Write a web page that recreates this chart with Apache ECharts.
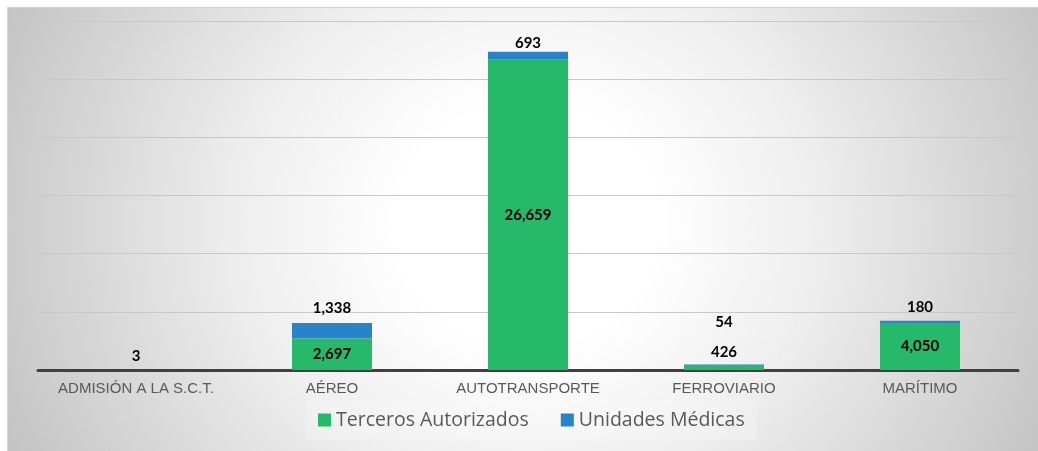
<!DOCTYPE html>
<html>
<head>
<meta charset="utf-8">
<script src="https://cdn.jsdelivr.net/npm/echarts@6/dist/echarts.min.js"></script>
<style>
  html, body { margin: 0; padding: 0; background: #ffffff; }
  #wrap { position: relative; width: 1038px; height: 451px; overflow: hidden; }
  #bg { position: absolute; left: 7px; top: 7px; width: 1040px; height: 450px;
        border-top: 1px solid #d2d2d2; border-left: 1px solid #d8d8d8;
        background: radial-gradient(ellipse 56% 120% at 50% 48%, #ffffff 22%, #eeeeee 50%, #c2c2c2 100%); }
  #chart { position: absolute; left: 0; top: 0; width: 1038px; height: 451px; }
</style>
</head>
<body>
<div id="wrap"><div id="bg"></div><div id="chart"></div></div>
<script>
// ---- data ----
const categories = ['ADMISIÓN A LA S.C.T.', 'AÉREO', 'AUTOTRANSPORTE', 'FERROVIARIO', 'MARÍTIMO'];
const tercerosAutorizados = [3, 2697, 26659, 426, 4050];
const unidadesMedicas = [null, 1338, 693, 54, 180];
const seriesNames = ['Terceros Autorizados', 'Unidades Médicas'];

// ---- label placement tweaks (styles only) ----
const greenLabelOffsets = [[0, -14], [0, 0], [0, 0], [0, -15], [0, 0]];
const blueLabelDistances = [5, 7, 1, 35, 6];

const fmt = v => Number(v).toLocaleString('en-US');

const chart = echarts.init(document.getElementById('chart'), null, { renderer: 'canvas' });

const labelBase = {
  show: true,
  color: '#000000',
  fontFamily: 'Lato',
  fontWeight: 'bold',
  fontSize: 15,
  formatter: p => (p.value == null ? '' : fmt(p.value))
};

chart.setOption({
  backgroundColor: 'transparent',
  animation: false,
  grid: { left: 38, right: 20, top: 21, bottom: 81, containLabel: false },
  legend: {
    left: 306,
    top: 400,
    icon: 'rect',
    itemWidth: 13,
    itemHeight: 13,
    itemGap: 32,
    itemTextGap: 5,
    padding: [10, 12, 10, 12],
    backgroundColor: 'rgba(255,255,255,0.2)',
    textStyle: { fontFamily: 'Open Sans', fontSize: 19.5, color: '#595959' },
    data: seriesNames
  },
  xAxis: {
    type: 'category',
    data: categories,
    axisLine: { show: true, lineStyle: { color: '#404040', width: 3 } },
    axisTick: { show: false },
    axisLabel: { color: '#595959', fontFamily: 'Liberation Sans', fontSize: 15, margin: 11, interval: 0, hideOverlap: false }
  },
  yAxis: {
    type: 'value',
    min: 0,
    max: 30000,
    interval: 5000,
    axisLine: { show: false },
    axisTick: { show: false },
    axisLabel: { show: false },
    splitLine: { show: true, lineStyle: { color: '#c8c8c8', width: 1 } }
  },
  series: [
    {
      name: seriesNames[0],
      type: 'bar',
      stack: 'total',
      barWidth: 80,
      itemStyle: { color: '#26b96a' },
      label: Object.assign({}, labelBase, { position: 'inside' }),
      data: tercerosAutorizados.map((v, i) => ({ value: v, label: { offset: greenLabelOffsets[i] } }))
    },
    {
      name: seriesNames[1],
      type: 'bar',
      stack: 'total',
      barWidth: 80,
      itemStyle: { color: '#2784c9' },
      label: Object.assign({}, labelBase, { position: 'top' }),
      data: unidadesMedicas.map((v, i) => ({ value: v, label: { distance: blueLabelDistances[i] } }))
    }
  ]
});
</script>
</body>
</html>
